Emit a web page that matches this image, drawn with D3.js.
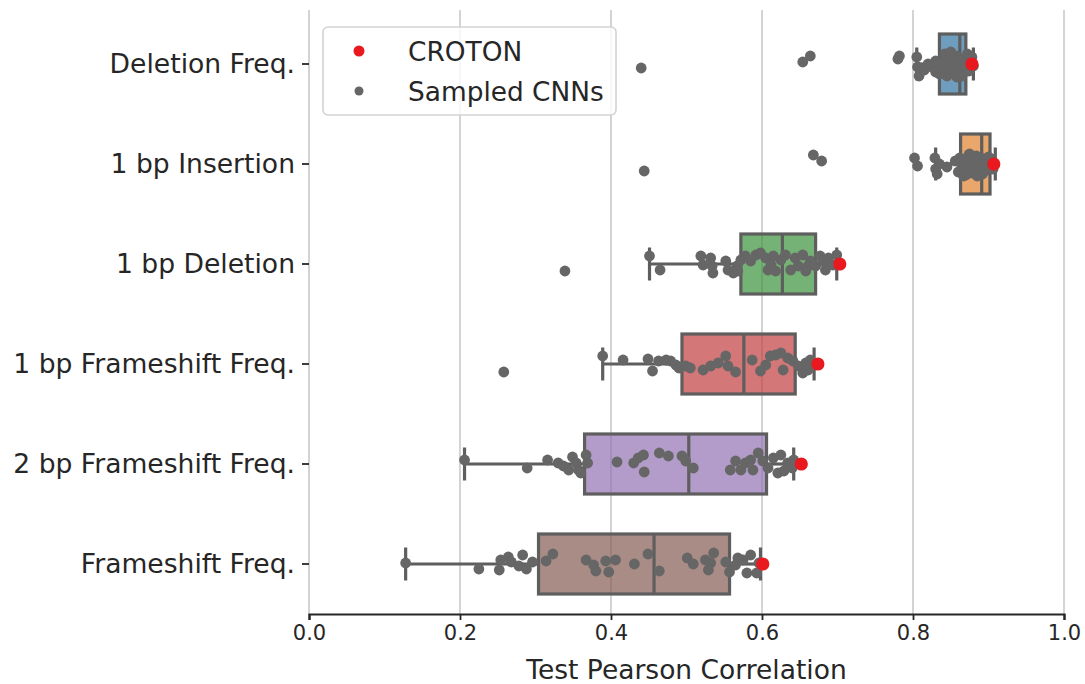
<!DOCTYPE html>
<html>
<head>
<meta charset="utf-8">
<script src="https://cdn.jsdelivr.net/npm/d3@7"></script>
<style>
  html, body { margin: 0; padding: 0; background: #fff; }
  svg { display: block; font-family: "DejaVu Sans", sans-serif; }
</style>
</head>
<body>
<svg id="chart" width="1085" height="684"></svg>
<script>
// Mutation-outcome prediction tasks, top to bottom
const categories = [
  "Deletion Freq.",
  "1 bp Insertion",
  "1 bp Deletion",
  "1 bp Frameshift Freq.",
  "2 bp Frameshift Freq.",
  "Frameshift Freq."
];

// Box summaries of the sampled CNN test correlations
const boxQ1       = [0.835, 0.863, 0.572, 0.494, 0.365, 0.304];
const boxMedian   = [0.862, 0.891, 0.627, 0.576, 0.503, 0.457];
const boxQ3       = [0.870, 0.902, 0.671, 0.644, 0.606, 0.557];
const whiskerLow  = [0.805, 0.830, 0.451, 0.389, 0.206, 0.128];
const whiskerHigh = [0.880, 0.909, 0.699, 0.669, 0.642, 0.598];

// CROTON test correlation per task
const crotonScores = [0.878, 0.907, 0.703, 0.674, 0.652, 0.601];

// Sampled CNNs: [test correlation, strip jitter as a fraction of the row]
const sampledDeletionFreq = [
  [0.440, 0.04], [0.654, -0.02], [0.664, -0.08], [0.780, -0.05], [0.782, -0.08],
  [0.805, -0.07], [0.806, 0.03], [0.808, 0.12], [0.815, 0.06], [0.820, 0.00],
  [0.825, 0.03], [0.830, 0.08], [0.835, 0.10], [0.838, 0.04], [0.840, -0.02],
  [0.842, -0.10], [0.845, 0.00], [0.848, 0.05], [0.850, -0.05], [0.852, 0.08],
  [0.855, 0.02], [0.857, -0.08], [0.860, 0.06], [0.862, -0.03], [0.864, 0.10],
  [0.866, 0.01], [0.868, -0.06], [0.870, 0.04], [0.872, -0.10], [0.874, 0.07],
  [0.876, -0.02], [0.878, -0.07], [0.880, 0.02], [0.865, 0.12], [0.858, 0.13],
  [0.850, -0.12], [0.830, -0.03], [0.845, 0.12]
];
const sampledInsertion1bp = [
  [0.444, 0.07], [0.668, -0.09], [0.679, -0.03], [0.802, -0.06], [0.806, 0.02],
  [0.829, -0.06], [0.830, 0.05], [0.832, 0.10], [0.835, 0.00], [0.845, 0.03],
  [0.856, -0.03], [0.860, 0.08], [0.862, -0.06], [0.865, 0.02], [0.867, 0.12],
  [0.870, -0.05], [0.872, 0.05], [0.874, -0.09], [0.876, 0.00], [0.878, 0.09],
  [0.880, -0.04], [0.882, 0.04], [0.884, -0.08], [0.886, 0.07], [0.888, 0.00],
  [0.890, -0.06], [0.892, 0.10], [0.894, 0.03], [0.896, -0.03], [0.898, 0.06],
  [0.900, -0.07], [0.902, 0.02], [0.904, -0.05], [0.906, 0.05], [0.870, 0.11],
  [0.885, 0.12], [0.875, -0.10]
];
const sampledDeletion1bp = [
  [0.339, 0.07], [0.451, -0.08], [0.465, 0.06], [0.519, -0.08], [0.522, 0.01],
  [0.532, -0.06], [0.534, 0.02], [0.535, 0.09], [0.552, -0.03], [0.555, 0.06],
  [0.562, 0.09], [0.567, 0.02], [0.568, 0.07], [0.572, -0.04], [0.578, -0.08],
  [0.585, -0.03], [0.592, -0.09], [0.598, -0.11], [0.605, -0.06], [0.608, 0.06],
  [0.612, 0.01], [0.615, -0.08], [0.618, 0.07], [0.625, -0.04], [0.631, -0.09],
  [0.638, 0.06], [0.644, -0.06], [0.648, 0.02], [0.654, -0.09], [0.658, 0.07],
  [0.661, 0.02], [0.664, -0.03], [0.671, 0.02], [0.677, -0.08], [0.681, -0.03],
  [0.684, 0.06], [0.688, -0.06], [0.694, 0.01], [0.699, -0.09]
];
const sampledFrameshift1bp = [
  [0.258, 0.08], [0.389, -0.08], [0.416, -0.04], [0.449, -0.05], [0.455, 0.07],
  [0.463, -0.03], [0.473, -0.04], [0.479, -0.03], [0.486, 0.01], [0.490, 0.04],
  [0.499, 0.02], [0.505, 0.04], [0.522, 0.06], [0.532, 0.02], [0.542, -0.01],
  [0.552, -0.08], [0.555, 0.02], [0.565, 0.08], [0.587, -0.04], [0.598, 0.07],
  [0.605, 0.01], [0.611, -0.08], [0.618, -0.09], [0.625, -0.11], [0.628, 0.06],
  [0.634, -0.06], [0.641, -0.03], [0.648, 0.02], [0.654, 0.09], [0.658, -0.01],
  [0.661, 0.06], [0.664, -0.04], [0.669, 0.01]
];
const sampledFrameshift2bp = [
  [0.206, -0.04], [0.289, 0.04], [0.316, -0.04], [0.330, -0.01], [0.337, 0.02],
  [0.344, 0.06], [0.349, -0.07], [0.354, -0.01], [0.357, 0.06], [0.360, 0.09],
  [0.367, -0.09], [0.369, -0.01], [0.408, -0.02], [0.430, -0.01], [0.436, -0.06],
  [0.443, -0.09], [0.444, 0.08], [0.464, -0.11], [0.476, -0.08], [0.494, -0.08],
  [0.499, -0.03], [0.509, 0.04], [0.558, 0.06], [0.565, -0.03], [0.572, 0.06],
  [0.578, -0.01], [0.585, -0.04], [0.588, 0.06], [0.595, -0.11], [0.601, -0.03],
  [0.608, 0.04], [0.615, -0.06], [0.621, 0.09], [0.625, -0.09], [0.629, 0.07],
  [0.634, -0.01], [0.640, 0.04], [0.642, -0.04]
];
const sampledFrameshiftFreq = [
  [0.128, -0.01], [0.225, 0.05], [0.252, 0.06], [0.254, -0.04], [0.264, -0.07],
  [0.268, -0.02], [0.278, 0.02], [0.283, -0.09], [0.288, 0.05], [0.296, -0.02],
  [0.314, -0.03], [0.323, -0.10], [0.367, -0.04], [0.377, 0.01], [0.380, 0.07],
  [0.393, -0.03], [0.397, 0.08], [0.406, -0.04], [0.431, 0.00], [0.449, -0.10],
  [0.464, 0.07], [0.501, -0.06], [0.509, 0.00], [0.525, -0.04], [0.529, 0.06],
  [0.532, -0.01], [0.536, -0.11], [0.552, -0.02], [0.557, 0.08], [0.565, 0.01],
  [0.568, -0.06], [0.575, -0.04], [0.580, 0.09], [0.585, -0.09], [0.593, 0.09],
  [0.596, -0.01]
];
const sampledByTask = [
  sampledDeletionFreq, sampledInsertion1bp, sampledDeletion1bp,
  sampledFrameshift1bp, sampledFrameshift2bp, sampledFrameshiftFreq
];

const xTicks = [0, 0.2, 0.4, 0.6, 0.8, 1.0];
const xLabel = "Test Pearson Correlation";
const legendLabels = ["CROTON", "Sampled CNNs"];

// Muted tab10-style fills for each task's box
const boxColors = ["#3274a1", "#e1812c", "#3a923a", "#c03d3e", "#9372b2", "#845b53"];
const lineGray = "#5e5e5e";
const pointGray = "#666666";
const crotonRed = "#e8191f";

const svg = d3.select("#chart");
const plotTop = 14, plotBottom = 614, plotLeft = 309, plotRight = 1064;

const x = d3.scaleLinear().domain([0, 1]).range([plotLeft, plotRight]);
const y = d3.scaleBand().domain(categories).range([plotTop, plotBottom]).padding(0);
const rowH = y.bandwidth();
const boxH = 0.6 * rowH;
const capH = 0.33 * rowH;

// vertical grid
svg.append("g")
  .selectAll("line")
  .data(xTicks)
  .join("line")
  .attr("x1", d => x(d)).attr("x2", d => x(d))
  .attr("y1", plotTop - 4).attr("y2", plotBottom)
  .attr("stroke", "#c9c9c9")
  .attr("stroke-width", 1.6);

// boxes and whiskers
const rows = svg.append("g")
  .selectAll("g")
  .data(categories)
  .join("g")
  .attr("transform", c => `translate(0,${y(c) + rowH / 2})`);

rows.append("line")
  .attr("x1", (c, i) => x(whiskerLow[i])).attr("x2", (c, i) => x(boxQ1[i]))
  .attr("y1", 0).attr("y2", 0);
rows.append("line")
  .attr("x1", (c, i) => x(boxQ3[i])).attr("x2", (c, i) => x(whiskerHigh[i]))
  .attr("y1", 0).attr("y2", 0);
rows.append("line")
  .attr("x1", (c, i) => x(whiskerLow[i])).attr("x2", (c, i) => x(whiskerLow[i]))
  .attr("y1", -capH / 2).attr("y2", capH / 2);
rows.append("line")
  .attr("x1", (c, i) => x(whiskerHigh[i])).attr("x2", (c, i) => x(whiskerHigh[i]))
  .attr("y1", -capH / 2).attr("y2", capH / 2);
rows.append("rect")
  .attr("x", (c, i) => x(boxQ1[i]))
  .attr("width", (c, i) => x(boxQ3[i]) - x(boxQ1[i]))
  .attr("y", -boxH / 2).attr("height", boxH)
  .attr("fill", (c, i) => boxColors[i])
  .attr("fill-opacity", 0.7);
rows.append("line")
  .attr("x1", (c, i) => x(boxMedian[i])).attr("x2", (c, i) => x(boxMedian[i]))
  .attr("y1", -boxH / 2).attr("y2", boxH / 2);
rows.selectAll("line")
  .attr("stroke", lineGray).attr("stroke-width", 3.2);
rows.select("rect")
  .attr("stroke", lineGray).attr("stroke-width", 3.2);

// sampled CNN strip
rows.append("g")
  .selectAll("circle")
  .data((c, i) => sampledByTask[i])
  .join("circle")
  .attr("cx", d => x(d[0]))
  .attr("cy", d => d[1] * rowH)
  .attr("r", 5.4)
  .attr("fill", pointGray);

// CROTON marker
rows.append("circle")
  .attr("cx", (c, i) => x(crotonScores[i]))
  .attr("cy", 0)
  .attr("r", 6.6)
  .attr("fill", crotonRed);

// axes
const xAxis = svg.append("g")
  .attr("transform", `translate(0,${plotBottom})`)
  .call(d3.axisBottom(x).tickValues(xTicks).tickFormat(d3.format(".1f")).tickSize(6).tickPadding(5));
xAxis.select(".domain").attr("stroke", "#262626").attr("stroke-width", 2.2);
xAxis.selectAll(".tick line").attr("stroke", "#262626").attr("stroke-width", 1.8);
xAxis.selectAll(".tick text")
  .attr("fill", "#262626")
  .style("font-size", "21px")
  .style("font-family", "DejaVu Sans");

const yAxis = svg.append("g")
  .attr("transform", `translate(${plotLeft},0)`)
  .call(d3.axisLeft(y).tickSize(7).tickPadding(7));
yAxis.select(".domain").remove();
yAxis.selectAll(".tick line").attr("stroke", "#262626").attr("stroke-width", 1.8);
yAxis.selectAll(".tick text")
  .attr("fill", "#262626")
  .style("font-size", "26.6px")
  .style("font-family", "DejaVu Sans");

svg.append("text")
  .attr("x", (plotLeft + plotRight) / 2)
  .attr("y", 679)
  .attr("text-anchor", "middle")
  .attr("fill", "#262626")
  .style("font-size", "26.5px")
  .text(xLabel);

// legend
const legend = svg.append("g").attr("transform", "translate(323,27)");
legend.append("rect")
  .attr("width", 293).attr("height", 88)
  .attr("rx", 5)
  .attr("fill", "#ffffff").attr("fill-opacity", 0.8)
  .attr("stroke", "#d3d3d3").attr("stroke-width", 1.6);
const legendColors = [crotonRed, pointGray];
const legendRadius = [5.5, 4.5];
const items = legend.selectAll("g.item")
  .data(legendLabels)
  .join("g")
  .attr("class", "item")
  .attr("transform", (d, i) => `translate(0,${24 + i * 40})`);
items.append("circle")
  .attr("cx", 36).attr("cy", 0)
  .attr("r", (d, i) => legendRadius[i])
  .attr("fill", (d, i) => legendColors[i]);
items.append("text")
  .attr("x", 85).attr("y", 0)
  .attr("dy", "0.36em")
  .attr("fill", "#262626")
  .style("font-size", "26.4px")
  .text(d => d);
</script>
</body>
</html>
